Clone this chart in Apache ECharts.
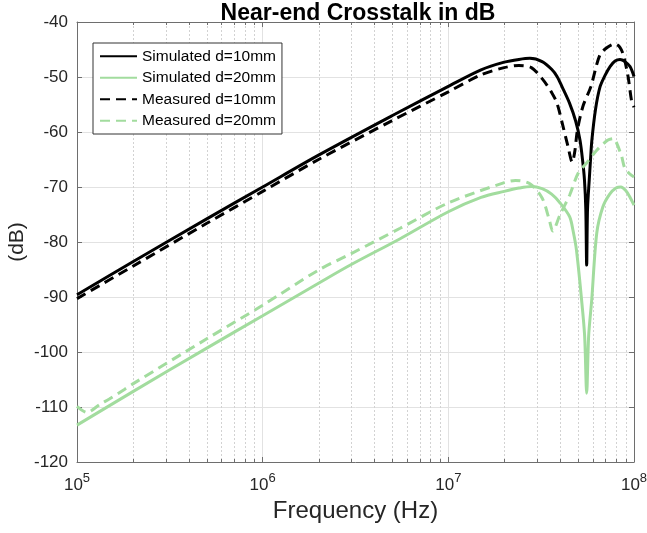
<!DOCTYPE html>
<html>
<head>
<meta charset="utf-8">
<title>Near-end Crosstalk</title>
<script src="https://cdn.jsdelivr.net/npm/echarts@6/dist/echarts.min.js"></script>
<style>
  html, body { margin: 0; padding: 0; background: #fff; }
  #main { width: 647px; height: 533px; }
</style>
</head>
<body>
<div id="main"></div>
<script>
// 数据（频率 Hz / 串扰 dB）
let simFreq10 = [1e5, 2e5, 5e5, 1e6, 2e6, 5e6, 1e7, 1.5e7, 2e7, 2.4e7, 2.75e7, 3.2e7, 3.6e7, 3.85e7, 4.1e7, 4.5e7, 4.85e7, 5.12e7, 5.3e7, 5.41e7, 5.5e7, 5.56e7, 5.62e7, 5.74e7, 5.82e7, 5.93e7, 6.21e7, 6.56e7, 6.96e7, 7.43e7, 7.91e7, 8.41e7, 8.94e7, 9.52e7, 1e8];
let simDb10 = [-89.6, -83.6, -75.8, -70.0, -64.2, -57.0, -51.7, -48.7, -47.3, -46.8, -46.6, -47.2, -48.6, -49.9, -51.8, -54.8, -58.0, -61.5, -65.5, -68.7, -74.0, -84.2, -74.0, -68.7, -65.5, -61.5, -55.8, -51.8, -49.8, -48.1, -47.1, -46.8, -47.2, -48.1, -49.9];

let simFreq20 = [1e5, 2e5, 5e5, 1e6, 2e6, 3e6, 5.5e6, 1e7, 1.5e7, 2e7, 2.4e7, 2.8e7, 3.2e7, 3.6e7, 4.0e7, 4.5e7, 4.7e7, 4.9e7, 5.22e7, 5.42e7, 5.56e7, 5.7e7, 5.92e7, 6.3e7, 6.8e7, 7.4e7, 8e7, 8.5e7, 9e7, 9.5e7, 1e8];
let simDb20 = [-113.3, -107.2, -99.3, -93.4, -87.5, -84.1, -79.4, -74.5, -71.9, -70.8, -70.2, -69.9, -70.3, -71.3, -72.9, -75.4, -78.0, -81.5, -90.5, -97.0, -107.5, -97.0, -90.5, -78.4, -73.6, -71.3, -70.2, -70.0, -70.6, -71.8, -73.3];

let measFreq10 = [1e5, 2e5, 5e5, 1e6, 2e6, 5e6, 1e7, 1.5e7, 2e7, 2.4e7, 2.8e7, 3.2e7, 3.6e7, 3.85e7, 4.1e7, 4.4e7, 4.65e7, 4.8e7, 4.95e7, 5.3e7, 5.85e7, 6.55e7, 7.2e7, 7.9e7, 8.4e7, 8.8e7, 9.3e7, 9.7e7, 1e8];
let measDb10 = [-90.3, -84.4, -76.6, -70.8, -65.0, -57.9, -52.7, -49.6, -48.3, -47.9, -48.3, -50.3, -52.8, -54.8, -58.3, -62.5, -65.5, -63.5, -59.8, -55.4, -51.8, -46.0, -44.6, -44.0, -44.6, -46.2, -50.0, -54.3, -55.5];

let measFreq20 = [1e5, 1.13e5, 1.33e5, 1.5e5, 1.8e5, 2e5, 5e5, 1e6, 2e6, 3e6, 5.5e6, 1e7, 2e7, 2.3e7, 2.75e7, 3.2e7, 3.5e7, 3.65e7, 4.0e7, 4.5e7, 5.0e7, 5.6e7, 6.3e7, 7.2e7, 7.7e7, 8.5e7, 8.9e7, 9.4e7, 1e8];
let measDb20 = [-109.9, -111.0, -109.5, -108.5, -106.8, -105.8, -97.6, -91.5, -85.1, -82.1, -77.5, -72.9, -69.2, -68.8, -69.4, -72.0, -76.0, -78.0, -75.0, -71.5, -67.5, -65.5, -63.3, -61.5, -61.2, -64.0, -66.5, -67.5, -68.2];

let seriesNames = ['Simulated d=10mm', 'Simulated d=20mm', 'Measured d=10mm', 'Measured d=20mm'];

// 坐标轴刻度
let yTicks = [-120, -110, -100, -90, -80, -70, -60, -50, -40];
let decades = [1e5, 1e6, 1e7];
let minorSteps = [2, 3, 4, 5, 6, 7, 8, 9];

let FONT = '"Liberation Sans", Arial, Helvetica, sans-serif';
let TXT = '#262626';
let AXIS = '#6e6e6e';
let GREEN = '#a2dc9e';

let minorData = [];
decades.forEach(function (d) {
  minorSteps.forEach(function (m) {
    minorData.push([d * m, -80]);
  });
});

function toPairs(xs, ys) {
  return xs.map(function (x, i) { return [x, ys[i]]; });
}

// 次网格线 + 次刻度
function renderMinor(params, api) {
  let x = Math.round(api.coord([api.value(0), -80])[0]) + 0.5;
  let cs = params.coordSys;
  let top = cs.y, bottom = cs.y + cs.height;
  return {
    type: 'group',
    children: [
      { type: 'line', shape: { x1: x, y1: top, x2: x, y2: bottom }, style: { stroke: '#d2d2d2', lineWidth: 1, lineDash: [2, 2] } },
      { type: 'line', shape: { x1: x, y1: bottom, x2: x, y2: bottom - 3 }, style: { stroke: AXIS, lineWidth: 1 } },
      { type: 'line', shape: { x1: x, y1: top, x2: x, y2: top + 3 }, style: { stroke: AXIS, lineWidth: 1 } }
    ]
  };
}

function lineSeries(name, data, color, dashed) {
  return {
    name: name,
    type: 'line',
    data: data,
    symbol: 'none',
    smooth: 0.3,
    z: 3,
    lineStyle: { color: color, width: 3, type: dashed ? [10, 6] : 'solid' },
    itemStyle: { color: color }
  };
}

let myChart = echarts.init(document.getElementById('main'));
let option = {
  animation: false,
  backgroundColor: '#fff',
  textStyle: { fontFamily: FONT },
  title: {
    text: 'Near-end Crosstalk in dB',
    left: 358,
    top: 2,
    padding: 0,
    textAlign: 'center',
    textStyle: { fontSize: 23, fontWeight: 'bold', color: '#000', fontFamily: FONT }
  },
  grid: { left: 77, right: 13, top: 22, bottom: 71, containLabel: false, outerBoundsMode: 'none' },
  legend: {
    data: seriesNames,
    orient: 'vertical',
    left: 93,
    top: 43,
    padding: [4, 6, 4, 6],
    itemGap: 3,
    itemWidth: 37,
    itemHeight: 14,
    itemStyle: { opacity: 0 },
    backgroundColor: '#fff',
    borderColor: '#333',
    borderWidth: 1,
    textStyle: { fontSize: 15.5, color: '#000', fontFamily: FONT, lineHeight: 18.5 }
  },
  xAxis: [
    {
      type: 'log',
      logBase: 10,
      min: 1e5,
      max: 1e8,
      name: 'Frequency (Hz)',
      nameLocation: 'middle',
      nameGap: 37,
      nameMoveOverlap: false,
      nameTextStyle: { fontSize: 24, color: TXT, fontFamily: FONT },
      axisLine: { show: true, lineStyle: { color: AXIS, width: 1 } },
      axisTick: { show: true, inside: true, length: 5, lineStyle: { color: AXIS } },
      splitLine: { show: true, lineStyle: { color: '#e2e2e2', width: 1 } },
      axisLabel: {
        margin: 10,
        formatter: function (v) {
          return '{b|10}{e|' + Math.round(Math.log10(v)) + '}';
        },
        rich: {
          b: { fontSize: 17, color: TXT, fontFamily: FONT, lineHeight: 22, verticalAlign: 'bottom' },
          e: { fontSize: 13, color: TXT, fontFamily: FONT, lineHeight: 14, verticalAlign: 'top' }
        }
      }
    },
    {
      type: 'log',
      logBase: 10,
      min: 1e5,
      max: 1e8,
      position: 'top',
      axisLine: { show: true, lineStyle: { color: AXIS, width: 1 } },
      axisTick: { show: true, inside: true, length: 5, lineStyle: { color: AXIS } },
      axisLabel: { show: false },
      splitLine: { show: false }
    }
  ],
  yAxis: [
    {
      type: 'value',
      min: yTicks[0],
      max: yTicks[yTicks.length - 1],
      interval: 10,
      name: '(dB)',
      nameLocation: 'middle',
      nameGap: 49,
      nameMoveOverlap: false,
      nameTextStyle: { fontSize: 21, color: TXT, fontFamily: FONT },
      axisLine: { show: true, lineStyle: { color: AXIS, width: 1 } },
      axisTick: { show: true, inside: true, length: 5, lineStyle: { color: AXIS } },
      splitLine: { show: true, lineStyle: { color: '#e2e2e2', width: 1 } },
      axisLabel: { fontSize: 17, color: TXT, margin: 9, fontFamily: FONT }
    },
    {
      type: 'value',
      min: yTicks[0],
      max: yTicks[yTicks.length - 1],
      interval: 10,
      position: 'right',
      axisLine: { show: true, lineStyle: { color: AXIS, width: 1 } },
      axisTick: { show: true, inside: true, length: 5, lineStyle: { color: AXIS } },
      axisLabel: { show: false },
      splitLine: { show: false }
    }
  ],
  series: [
    {
      name: 'minor',
      type: 'custom',
      renderItem: renderMinor,
      data: minorData,
      silent: true,
      z: 1,
      encode: { x: 0, y: 1 }
    },
    lineSeries(seriesNames[0], toPairs(simFreq10, simDb10), '#000', false),
    lineSeries(seriesNames[1], toPairs(simFreq20, simDb20), GREEN, false),
    lineSeries(seriesNames[2], toPairs(measFreq10, measDb10), '#000', true),
    lineSeries(seriesNames[3], toPairs(measFreq20, measDb20), GREEN, true)
  ]
};
myChart.setOption(option);
</script>
</body>
</html>
